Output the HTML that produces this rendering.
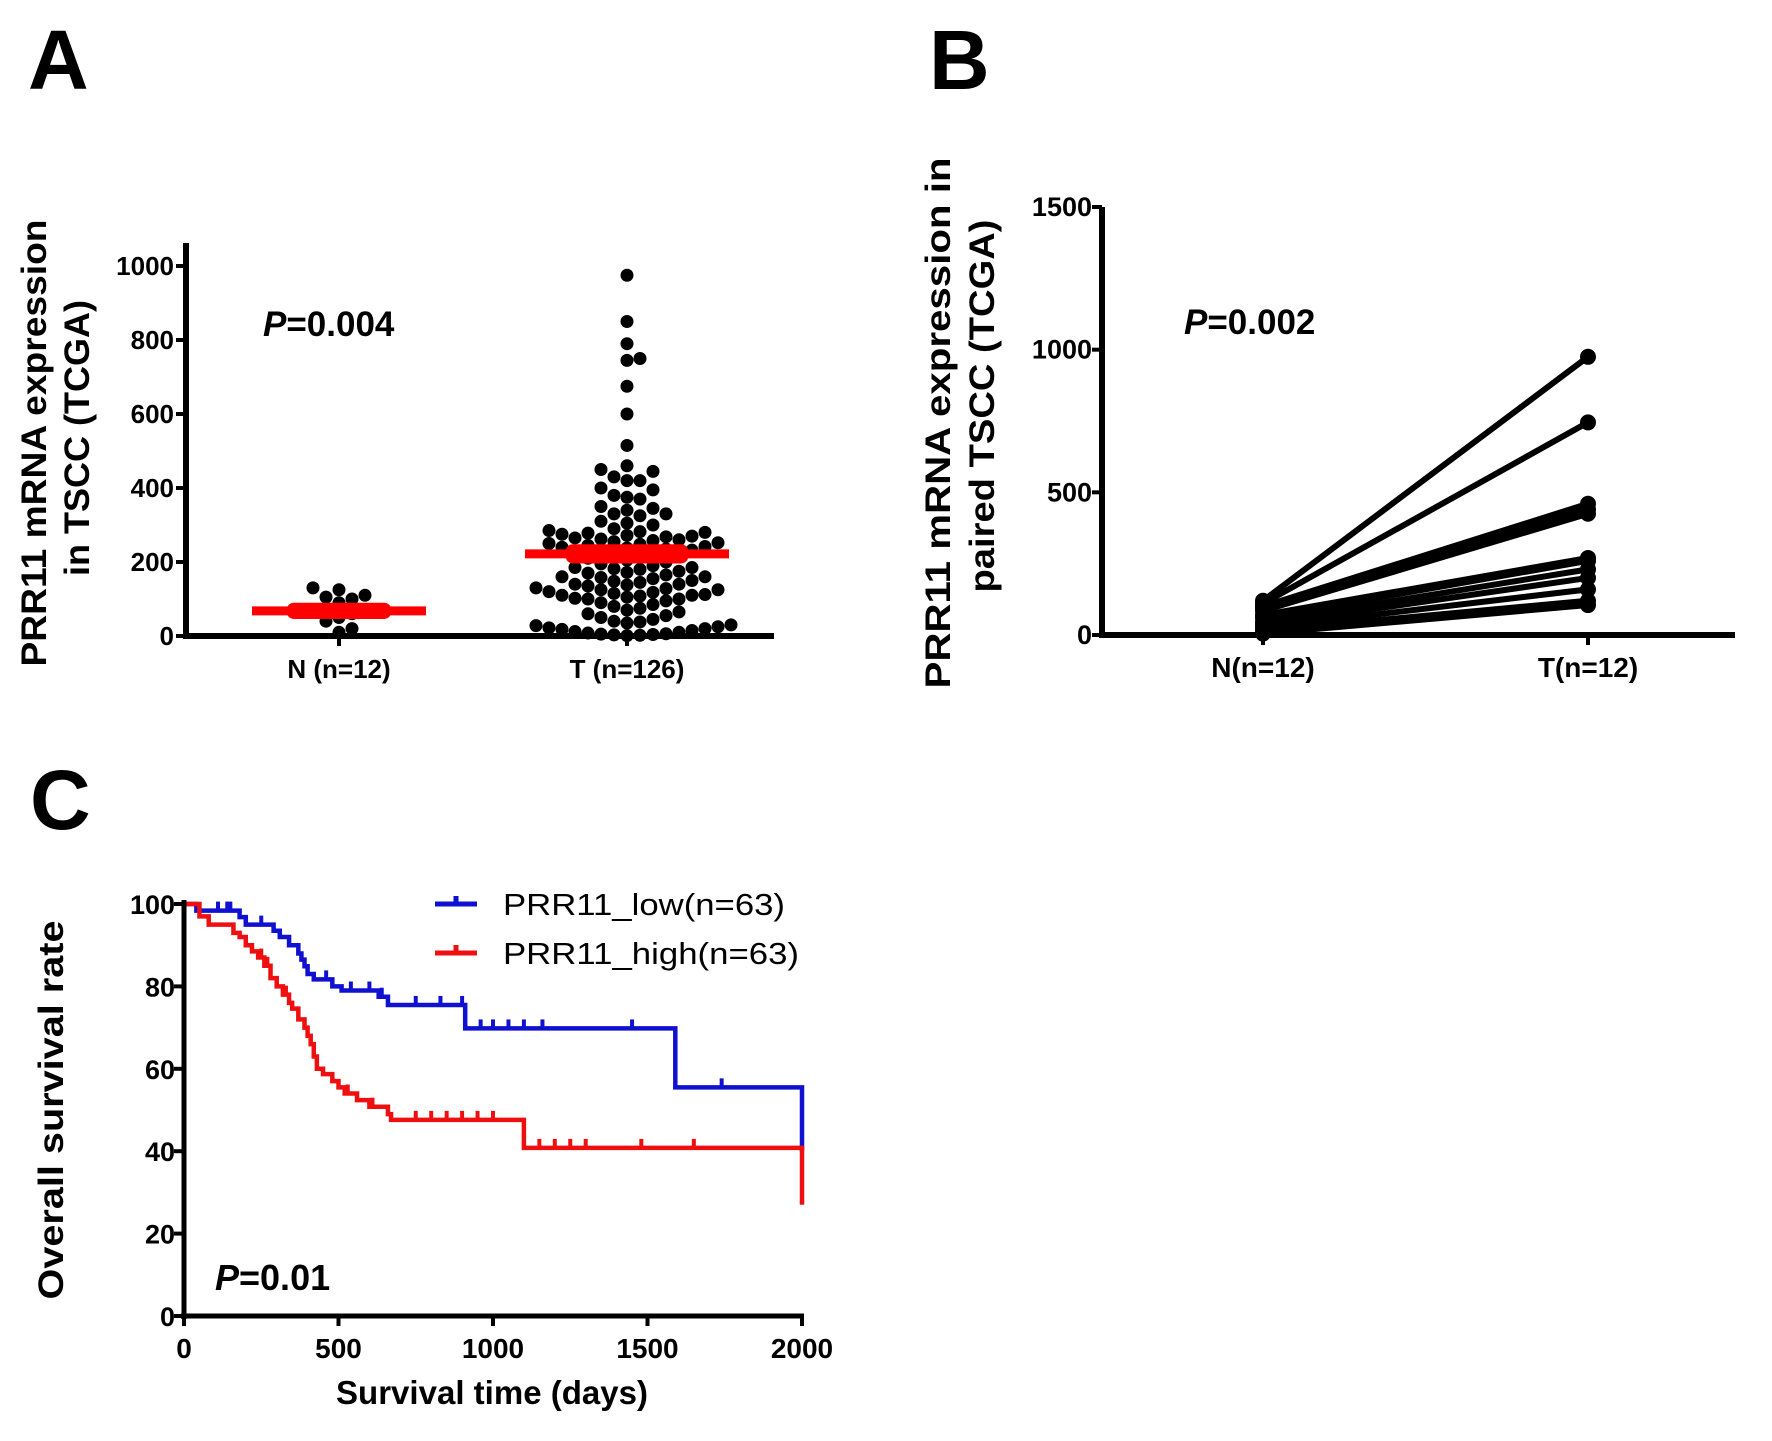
<!DOCTYPE html>
<html><head><meta charset="utf-8"><style>
html,body{margin:0;padding:0;background:#fff;}
svg{display:block;font-family:"Liberation Sans",Arial,sans-serif;}
</style></head><body>
<svg id="fig" width="1772" height="1441" viewBox="0 0 1772 1441" xmlns="http://www.w3.org/2000/svg">
<rect width="1772" height="1441" fill="#fff"/>
<text x="28" y="89" font-size="84" font-weight="bold">A</text>
<text transform="translate(46,443) rotate(-90)" text-anchor="middle" font-size="35" font-weight="bold" textLength="447" lengthAdjust="spacingAndGlyphs">PRR11 mRNA expression</text>
<text transform="translate(89,438) rotate(-90)" text-anchor="middle" font-size="35" font-weight="bold" textLength="276" lengthAdjust="spacingAndGlyphs">in TSCC (TCGA)</text>
<text x="263" y="336" font-size="35" font-weight="bold"><tspan font-style="italic">P</tspan>=0.004</text>
<g id="pa"></g>
<text x="929" y="89" font-size="84" font-weight="bold">B</text>
<text transform="translate(950,423) rotate(-90)" text-anchor="middle" font-size="35" font-weight="bold" textLength="531" lengthAdjust="spacingAndGlyphs">PRR11 mRNA expression in</text>
<text transform="translate(994,406) rotate(-90)" text-anchor="middle" font-size="35" font-weight="bold" textLength="373" lengthAdjust="spacingAndGlyphs">paired TSCC (TCGA)</text>
<text x="1184" y="334" font-size="35" font-weight="bold"><tspan font-style="italic">P</tspan>=0.002</text>
<g id="pb"></g>
<text x="30" y="829" font-size="84" font-weight="bold">C</text>
<text transform="translate(63,1110) rotate(-90)" text-anchor="middle" font-size="35" font-weight="bold" textLength="379" lengthAdjust="spacingAndGlyphs">Overall survival rate</text>
<text x="492" y="1404" text-anchor="middle" font-size="33" font-weight="bold" textLength="312" lengthAdjust="spacingAndGlyphs">Survival time (days)</text>
<text x="215" y="1290" font-size="36" font-weight="bold"><tspan font-style="italic">P</tspan>=0.01</text>
<g>
<line x1="435" y1="904" x2="477" y2="904" stroke="#1010d0" stroke-width="5"/>
<line x1="456" y1="896" x2="456" y2="904" stroke="#1010d0" stroke-width="5"/>
<text x="503" y="915" font-size="31" textLength="282" lengthAdjust="spacingAndGlyphs">PRR11_low(n=63)</text>
</g>
<g>
<line x1="435" y1="953" x2="477" y2="953" stroke="#ee1010" stroke-width="5"/>
<line x1="456" y1="945" x2="456" y2="953" stroke="#ee1010" stroke-width="5"/>
<text x="503" y="964" font-size="31" textLength="296" lengthAdjust="spacingAndGlyphs">PRR11_high(n=63)</text>
</g>
<g id="pc"></g>
</svg>
<script>
// ---------- Panel A data ----------
const aCategories = ["N (n=12)", "T (n=126)"];
const aNormalValues = [130,125,110,105,100,90,70,60,50,40,20,10];
const aTumorValues = [975,850,790,750,745,675,600,515,
460,450,445,430,420,420,400,395,380,375,370,350,345,340,330,330,325,310,305,300,
290,285,282,280,278,275,272,270,268,265,262,260,258,255,252,250,248,245,242,240,238,235,232,230,228,225,222,220,215,210,205,200,
195,190,185,182,180,175,172,170,165,160,158,155,150,148,145,140,138,135,130,128,125,120,118,115,112,110,108,105,102,100,100,185,160,140,125,110,
95,90,85,80,75,70,65,60,55,50,45,40,38,35,30,28,25,22,20,18,15,12,10,8,6,5,4,3,2,1];
const aMeans = [68, 222];
const aSem = [22, 26];
const aTicks = [0,200,400,600,800,1000];
// ---------- Panel B data ----------
const bCategories = ["N(n=12)", "T(n=12)"];
const bNormal = [120,110,100,95,85,70,60,45,35,25,15,5];
const bTumor = [975,745,460,440,425,270,260,230,200,160,120,105];
const bTicks = [0,500,1000,1500];
// ---------- Panel C data ----------
const lowTimes =  [0,40,180,200,290,310,340,370,380,390,400,420,480,510,630,660,910,1590,2000];
const lowSurv =   [100,98.4,96.8,95,93.5,92,90,88,86.5,84.9,83,81.7,80,79,77.5,75.5,69.8,55.5,40];
const lowCensor = [110,140,150,200,250,460,540,600,640,750,830,900,960,1000,1050,1100,1160,1450,1740];
const highTimes = [0,50,80,160,180,200,220,240,260,280,300,320,340,350,370,390,400,410,420,430,450,480,500,520,560,600,660,670,1100,2000];
const highSurv =  [100,97,95,93,92,90,88.5,87,85,82,80,78,76,74.6,72,70,68,66,63,60,58.7,57,55.5,54,52.4,50.8,49,47.6,40.8,27];
const highCensor = [250,270,300,330,530,610,750,800,850,900,950,1000,1150,1200,1250,1300,1480,1650];
const cYTicks = [0,20,40,60,80,100];
const cXTicks = [0,500,1000,1500,2000];

const NS = "http://www.w3.org/2000/svg";
function mk(parent, tag, attrs) {
  const e = document.createElementNS(NS, tag);
  for (const k in attrs) e.setAttribute(k, attrs[k]);
  parent.appendChild(e);
  return e;
}

// ================= Panel A =================
(function(){
  const g = document.getElementById('pa');
  const X0 = 186, Y0 = 636, Y1000 = 266, XEND = 774;
  const y = v => Y0 + (Y1000 - Y0) * v / 1000;
  const catX = [339, 627];
  function swarm(vals, cx, name) {
    const r = 6.5, placed = [];
    const sorted = vals.slice().sort((a,b)=>a-b);
    sorted.forEach(v => {
      const py = y(v);
      let px = cx;
      for (let k = 0; k < 60; k++) {
        const off = (k === 0 ? 0 : Math.ceil(k/2) * 2 * r * (k % 2 ? 1 : -1));
        const tx = cx + off;
        if (placed.every(p => (p[0]-tx)**2 + (p[1]-py)**2 >= (2*r-1)**2)) { px = tx; break; }
      }
      placed.push([px, py]);
      const c = mk(g, 'circle', {cx: px, cy: py, r: r, fill: '#000'});
      
      
    });
  }
  swarm(aNormalValues, catX[0], 'normal-point');
  swarm(aTumorValues, catX[1], 'tumor-point');
  const halfW = [87, 102];
  aMeans.forEach((m, i) => {
    const l = mk(g, 'line', {x1: catX[i]-halfW[i], x2: catX[i]+halfW[i], y1: y(m), y2: y(m), stroke: '#ff0000', 'stroke-width': 9});
    
    
    const s = mk(g, 'rect', {x: catX[i]-halfW[i]*0.6, width: halfW[i]*1.2, y: y(m + aSem[i]), height: y(m - aSem[i]) - y(m + aSem[i]), fill: '#ff0000', rx: 7});
    
    
  });
  const ya = mk(g, 'line', {x1: X0, x2: X0, y1: 243, y2: Y0+3, stroke: '#000', 'stroke-width': 6});
  
  
  const xa = mk(g, 'line', {x1: X0-3, x2: XEND, y1: Y0, y2: Y0, stroke: '#000', 'stroke-width': 6});
  
  
  aTicks.forEach(t => {
    mk(g, 'line', {x1: X0-10, x2: X0, y1: y(t), y2: y(t), stroke: '#000', 'stroke-width': 4});
    const tx = mk(g, 'text', {x: X0-12, y: y(t)+9, 'text-anchor': 'end', 'font-size': 26, 'font-weight': 'bold'});
    tx.textContent = t;
    
    
  });
  aCategories.forEach((c, i) => {
    mk(g, 'line', {x1: catX[i], x2: catX[i], y1: Y0, y2: Y0+10, stroke: '#000', 'stroke-width': 4});
    const tx = mk(g, 'text', {x: catX[i], y: Y0+42, 'text-anchor': 'middle', 'font-size': 26, 'font-weight': 'bold'});
    tx.textContent = c;
    
    
  });
})();

// ================= Panel B =================
(function(){
  const g = document.getElementById('pb');
  const X0 = 1102, Y0 = 635, Y1500 = 207, XEND = 1735;
  const y = v => Y0 + (Y1500 - Y0) * v / 1500;
  const catX = [1263, 1588];
  bNormal.forEach((n, i) => {
    const l = mk(g, 'line', {x1: catX[0], y1: y(n), x2: catX[1], y2: y(bTumor[i]), stroke: '#000', 'stroke-width': 6});
    
    
    const c1 = mk(g, 'circle', {cx: catX[0], cy: y(n), r: 8, fill: '#000'});
    
    
    const c2 = mk(g, 'circle', {cx: catX[1], cy: y(bTumor[i]), r: 8, fill: '#000'});
    
    
  });
  const ya = mk(g, 'line', {x1: X0, x2: X0, y1: Y1500, y2: Y0+3, stroke: '#000', 'stroke-width': 6});
  
  
  const xa = mk(g, 'line', {x1: X0-3, x2: XEND, y1: Y0, y2: Y0, stroke: '#000', 'stroke-width': 6});
  
  
  bTicks.forEach(t => {
    mk(g, 'line', {x1: X0-10, x2: X0, y1: y(t), y2: y(t), stroke: '#000', 'stroke-width': 4});
    const tx = mk(g, 'text', {x: X0-10, y: y(t)+9, 'text-anchor': 'end', 'font-size': 27, 'font-weight': 'bold'});
    tx.textContent = t;
    
    
  });
  bCategories.forEach((c, i) => {
    mk(g, 'line', {x1: catX[i], x2: catX[i], y1: Y0, y2: Y0+10, stroke: '#000', 'stroke-width': 4});
    const tx = mk(g, 'text', {x: catX[i], y: Y0+42, 'text-anchor': 'middle', 'font-size': 28, 'font-weight': 'bold'});
    tx.textContent = c;
    
    
  });
})();

// ================= Panel C =================
(function(){
  const g = document.getElementById('pc');
  const X0 = 184, X2000 = 802, Y0 = 1316, Y100 = 904;
  const x = d => X0 + (X2000 - X0) * d / 2000;
  const y = v => Y0 + (Y100 - Y0) * v / 100;
  function km(times, surv, censor, color, name) {
    let d = 'M' + x(times[0]) + ',' + y(surv[0]);
    for (let i = 1; i < times.length; i++) {
      d += ' H' + x(times[i]) + ' V' + y(surv[i]);
    }
    const p = mk(g, 'path', {d: d, fill: 'none', stroke: color, 'stroke-width': 4.5});
    
    
    censor.forEach(c => {
      let s = surv[0];
      for (let i = 0; i < times.length; i++) if (times[i] <= c) s = surv[i];
      const t = mk(g, 'line', {x1: x(c), x2: x(c), y1: y(s), y2: y(s)-9, stroke: color, 'stroke-width': 4});
      
      
    });
  }
  km(lowTimes, lowSurv, lowCensor, '#1010d0', 'low-expression');
  km(highTimes, highSurv, highCensor, '#ee1010', 'high-expression');
  const ya = mk(g, 'line', {x1: X0, x2: X0, y1: Y100-4, y2: Y0+3, stroke: '#000', 'stroke-width': 5});
  
  
  const xa = mk(g, 'line', {x1: X0-3, x2: X2000+2, y1: Y0, y2: Y0, stroke: '#000', 'stroke-width': 5});
  
  
  cYTicks.forEach(t => {
    mk(g, 'line', {x1: X0-10, x2: X0, y1: y(t), y2: y(t), stroke: '#000', 'stroke-width': 4});
    const tx = mk(g, 'text', {x: X0-9, y: y(t)+10, 'text-anchor': 'end', 'font-size': 27, 'font-weight': 'bold'});
    tx.textContent = t;
    
    
  });
  cXTicks.forEach(t => {
    mk(g, 'line', {x1: x(t), x2: x(t), y1: Y0, y2: Y0+10, stroke: '#000', 'stroke-width': 4});
    const tx = mk(g, 'text', {x: x(t), y: Y0+42, 'text-anchor': 'middle', 'font-size': 28, 'font-weight': 'bold'});
    tx.textContent = t;
    
    
  });
})();
</script>
</body></html>
